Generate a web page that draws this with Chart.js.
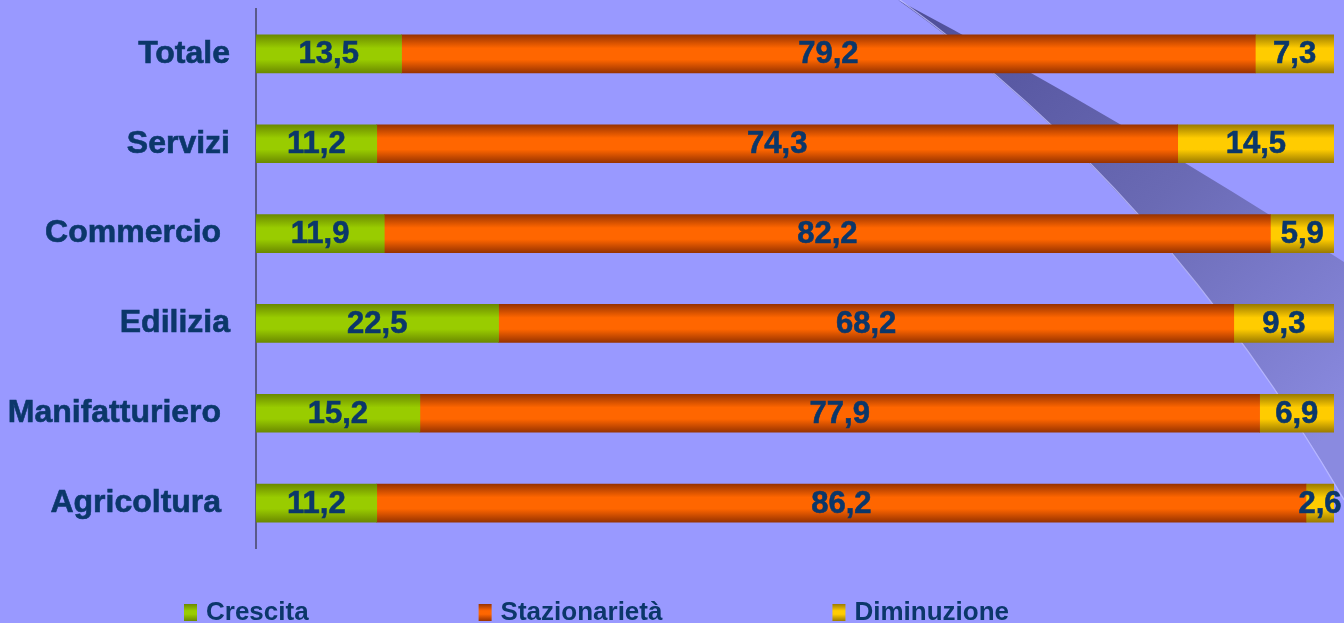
<!DOCTYPE html>
<html>
<head>
<meta charset="utf-8">
<script src="https://cdn.jsdelivr.net/npm/chart.js@4/dist/chart.umd.min.js"></script>
<style>
  html, body { margin: 0; padding: 0; background: #9999ff; overflow: hidden; }
  canvas { display: block; }
</style>
</head>
<body>
<canvas id="c" width="1344" height="623"></canvas>
<script>
const categories = ['Totale', 'Servizi', 'Commercio ', 'Edilizia', 'Manifatturiero ', 'Agricoltura '];
const seriesNames = ['Crescita', 'Stazionarietà', 'Diminuzione'];
const crescita = [13.5, 11.2, 11.9, 22.5, 15.2, 11.2];
const stazionarieta = [79.2, 74.3, 82.2, 68.2, 77.9, 86.2];
const diminuzione = [7.3, 14.5, 5.9, 9.3, 6.9, 2.6];

const BAR_H = 38;
const TEXT_COLOR = '#0b376a';
const FONT_FAMILY = '"Liberation Sans", Arial, sans-serif';
const palettes = [
  { edge: '#6b8a00', mid: '#99cc00' },
  { edge: '#993300', mid: '#ff6600' },
  { edge: '#9c7c00', mid: '#ffcc00' }
];

function barFill(pi) {
  return (ctx) => {
    const chart = ctx.chart;
    const ys = chart.scales && chart.scales.y;
    if (!ys || ctx.dataIndex === undefined) return palettes[pi].mid;
    const c = ys.getPixelForValue(ctx.dataIndex);
    if (!isFinite(c)) return palettes[pi].mid;
    const g = chart.ctx.createLinearGradient(0, c - BAR_H / 2, 0, c + BAR_H / 2);
    g.addColorStop(0, palettes[pi].edge);
    g.addColorStop(0.35, palettes[pi].mid);
    g.addColorStop(0.65, palettes[pi].mid);
    g.addColorStop(1, palettes[pi].edge);
    return g;
  };
}

const backdrop = {
  id: 'backdrop',
  beforeDraw(chart) {
    const ctx = chart.ctx;
    ctx.save();
    ctx.fillStyle = '#9999ff';
    ctx.fillRect(0, 0, chart.width, chart.height);
    const g = ctx.createLinearGradient(950, 0, 1344, 420);
    g.addColorStop(0, '#50509a');
    g.addColorStop(0.5, '#6a6ab4');
    g.addColorStop(1, '#8a8ae0');
    ctx.beginPath();
    ctx.moveTo(898, 0);
    ctx.quadraticCurveTo(1120, 118, 1344, 262);
    ctx.lineTo(1344, 498);
    ctx.bezierCurveTo(1180, 220, 1000, 72, 898, 0);
    ctx.closePath();
    ctx.fillStyle = g;
    ctx.fill();
    ctx.beginPath();
    ctx.moveTo(900, 0);
    ctx.bezierCurveTo(1003, 74, 1183, 222, 1344, 500);
    ctx.strokeStyle = 'rgba(190,190,255,0.8)';
    ctx.lineWidth = 1.2;
    ctx.stroke();
    ctx.restore();
  }
};

const valueLabels = {
  id: 'valueLabels',
  afterDatasetsDraw(chart) {
    const ctx = chart.ctx;
    ctx.save();
    ctx.font = 'bold 31px ' + FONT_FAMILY;
    ctx.fillStyle = TEXT_COLOR;
    ctx.strokeStyle = TEXT_COLOR;
    ctx.lineWidth = 0.6;
    ctx.textAlign = 'center';
    ctx.textBaseline = 'middle';
    chart.data.datasets.forEach((ds, di) => {
      const meta = chart.getDatasetMeta(di);
      meta.data.forEach((el, i) => {
        const v = ds.data[i];
        const cx = (el.x + el.base) / 2;
        const t = v.toFixed(1).replace('.', ',');
        ctx.fillText(t, cx, el.y + 1);
        ctx.strokeText(t, cx, el.y + 1);
      });
    });
    ctx.restore();
  }
};

const customLegend = {
  id: 'customLegend',
  afterDraw(chart) {
    const ctx = chart.ctx;
    ctx.save();
    ctx.font = 'bold 26px ' + FONT_FAMILY;
    ctx.textBaseline = 'alphabetic';
    ctx.textAlign = 'left';
    let x = 184;
    const baseY = 620;
    seriesNames.forEach((name, i) => {
      const p = palettes[i];
      const g = ctx.createLinearGradient(0, 604, 0, 621);
      g.addColorStop(0, p.edge);
      g.addColorStop(0.4, p.mid);
      g.addColorStop(0.6, p.mid);
      g.addColorStop(1, p.edge);
      ctx.fillStyle = g;
      ctx.fillRect(x, 604, 13, 17);
      ctx.fillStyle = TEXT_COLOR;
      ctx.fillText(name, x + 22, baseY);
      const w = ctx.measureText(name).width;
      x += 22 + w + 170;
    });
    ctx.restore();
  }
};

new Chart(document.getElementById('c'), {
  type: 'bar',
  data: {
    labels: categories,
    datasets: [
      { label: seriesNames[0], data: crescita, backgroundColor: barFill(0) },
      { label: seriesNames[1], data: stazionarieta, backgroundColor: barFill(1) },
      { label: seriesNames[2], data: diminuzione, backgroundColor: barFill(2) }
    ]
  },
  options: {
    indexAxis: 'y',
    responsive: false,
    animation: false,
    layout: { padding: { top: 9, bottom: 75, right: 10, left: 0 } },
    datasets: { bar: { barThickness: BAR_H, borderWidth: 0 } },
    scales: {
      x: { stacked: true, min: 0, max: 100, display: false },
      y: {
        stacked: true,
        grid: { display: false, drawTicks: false },
        border: { display: true, color: '#5a5a8a', width: 2 },
        ticks: {
          padding: 26,
          color: TEXT_COLOR,
          textStrokeColor: TEXT_COLOR,
          textStrokeWidth: 0.6,
          font: { family: FONT_FAMILY, size: 32, weight: 'bold' }
        },
        afterFit(scale) {
          scale.width = 256;
          scale.paddingTop = 0;
          scale.paddingBottom = 0;
        }
      }
    },
    plugins: {
      legend: { display: false },
      tooltip: { enabled: false }
    }
  },
  plugins: [backdrop, valueLabels, customLegend]
});
</script>
</body>
</html>
